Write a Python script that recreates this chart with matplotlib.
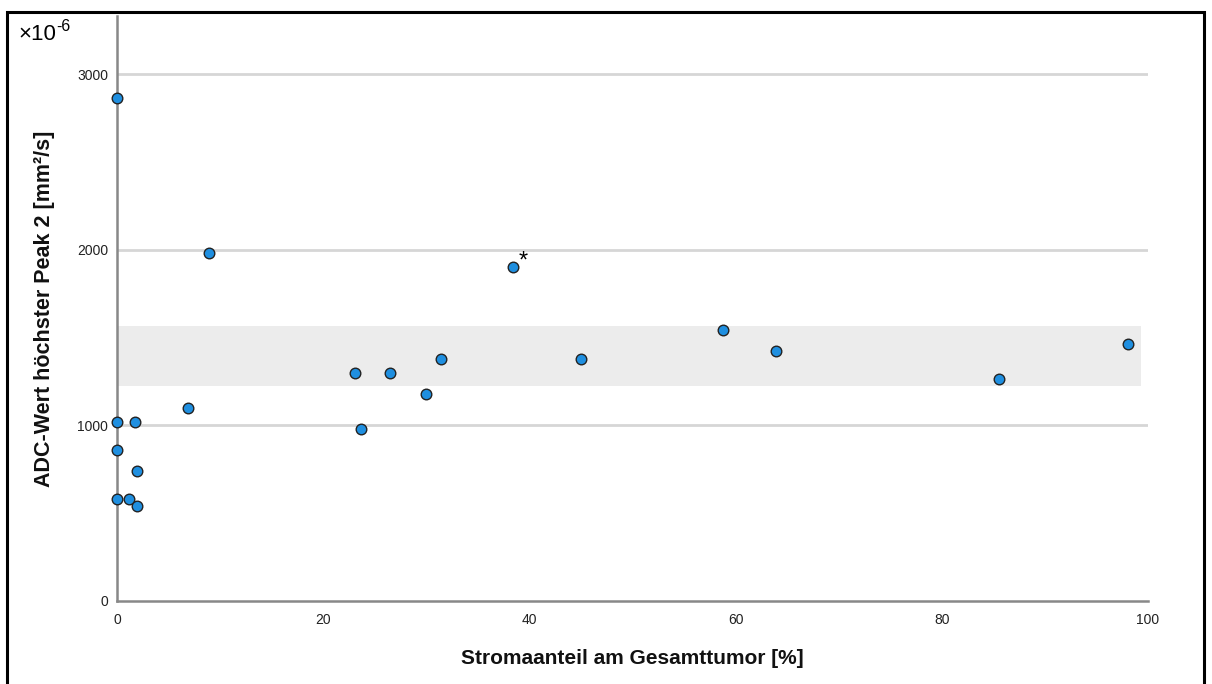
import matplotlib
matplotlib.use("Agg")
import matplotlib.pyplot as plt
from matplotlib.patches import Rectangle

plt.rcParams['font.family'] = ['Liberation Sans', 'DejaVu Sans']

# Data
stroma = [0, 8.9, 38.4, 0, 0, 0, 1.75, 1.13, 1.94, 1.94, 6.9,
          23.05, 23.7, 26.5, 30.0, 31.45, 45.0, 58.8, 63.9, 85.5, 98.1]
adc = [2863, 1980, 1901, 1020, 860, 581, 1020, 581, 741, 540, 1100,
       1301, 980, 1301, 1181, 1381, 1381, 1542, 1422, 1262, 1462]
band_low, band_high = 1226, 1567
band_x0, band_x1 = 0, 99.3
xticks = [0, 20, 40, 60, 80, 100]
yticks = [0, 1000, 2000, 3000]
outlier_x, outlier_y = 38.4, 1901

fig = plt.figure(figsize=(12.12, 6.84), dpi=100)
# figure frame
fig.add_artist(Rectangle((7/1212, -0.05), (1204-7)/1212, 1 - 12/684 + 0.05,
                         transform=fig.transFigure, fill=False,
                         edgecolor='black', linewidth=2.2, zorder=10))

ax = fig.add_axes([117/1212, 1 - 601/684, (1148-117)/1212, (601-16)/684])
ax.set_xlim(0, 100)
ax.set_ylim(0, 3333)

for y in yticks[1:]:
    ax.axhline(y, color='#d6d6d6', linewidth=2.0, zorder=1)

ax.add_patch(Rectangle((band_x0, band_low), band_x1 - band_x0, band_high - band_low,
                       facecolor='#ececec', edgecolor='none', zorder=0.5))

ax.scatter(stroma, adc, s=58, color='#1f8fe0', edgecolors='#222222',
           linewidths=1.0, zorder=5, clip_on=False)

ax.annotate('*', (outlier_x, outlier_y), xytext=(7.5, -4), textcoords='offset points',
            fontsize=17, ha='center', va='bottom', color='black')

for s in ['top', 'right']:
    ax.spines[s].set_visible(False)
for s in ['left', 'bottom']:
    ax.spines[s].set_color('#888888')
    ax.spines[s].set_linewidth(1.8)

ax.set_xticks(xticks)
ax.set_yticks(yticks)
ax.tick_params(axis='both', length=0, labelsize=10, colors='#222222')
ax.tick_params(axis='x', pad=8.5)
ax.tick_params(axis='y', pad=6.5)

ax.set_xlabel('Stromaanteil am Gesamttumor [%]', fontsize=15,
              fontweight='bold', color='#111111', labelpad=16)
ax.set_ylabel('ADC-Wert höchster Peak 2 [mm²/s]', fontsize=15.5,
              fontweight='bold', color='#111111', labelpad=16)

fig.text(18/1212, 1 - 40/684, '×10', fontsize=16, ha='left', va='baseline')
fig.text(56/1212, 1 - 31/684, '-6', fontsize=11.5, ha='left', va='baseline')

fig.savefig('out.png', dpi=100)
